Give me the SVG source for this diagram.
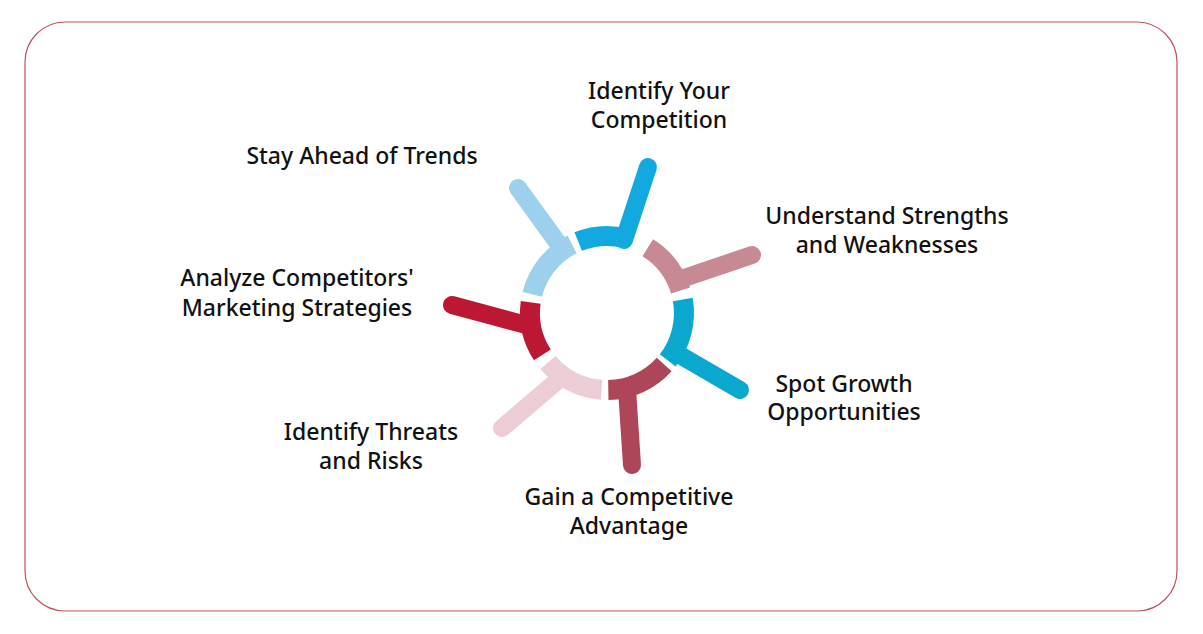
<svg xmlns="http://www.w3.org/2000/svg" width="1203" height="634" viewBox="0 0 1203 634">
<style>
.lbl{font-family:"Noto Sans","Liberation Sans",sans-serif;font-size:23px;font-weight:500;fill:#111;text-anchor:middle}
.arc{fill:none;stroke-width:20}
.arm{fill:none;stroke-width:18;stroke-linecap:round}
</style>
<rect x="0" y="0" width="1203" height="634" fill="#fff"/>
<rect x="25" y="22" width="1152" height="589" rx="40" fill="#fff" stroke="#C0505F" stroke-width="1.2"/>
<g id="connectors">
<g id="seg-competition" stroke="#12A9E0"><path class="arc" d="M578.2 241.6 A77 77 0 0 1 625.6 238.3"/><path class="arm" d="M624 240 L648 167"/></g>
<g id="seg-strengths" stroke="#C78A94"><path class="arc" d="M647.8 247.7 A77 77 0 0 1 680.6 290.5"/><path class="arm" d="M676.8 280.5 L752 255"/></g>
<g id="seg-growth" stroke="#0AA8CF"><path class="arc" d="M682.8 299.6 A77 77 0 0 1 667.7 360.4"/><path class="arm" d="M673.7 351.5 L740 390"/></g>
<g id="seg-advantage" stroke="#AE4659"><path class="arc" d="M664.2 364.5 A77 77 0 0 1 608.3 390"/><path class="arm" d="M626.9 387.4 L632 465"/></g>
<g id="seg-threats" stroke="#EDCDD5"><path class="arc" d="M601.6 389.8 A77 77 0 0 1 548 362.5"/><path class="arm" d="M562.8 376.1 L502 428"/></g>
<g id="seg-marketing" stroke="#BC1733"><path class="arc" d="M542.4 354.9 A77 77 0 0 1 530.7 302.3"/><path class="arm" d="M531.2 326.4 L452 305"/></g>
<g id="seg-trends" stroke="#9DD0EC"><path class="arc" d="M532.3 294.4 A77 77 0 0 1 572 244.4"/><path class="arm" d="M562.8 249.9 L518 188"/></g>
</g>
<g id="node-competition"><text class="lbl" x="659" y="99">Identify Your</text><text class="lbl" x="659" y="128">Competition</text></g>
<g id="node-trends"><text class="lbl" x="362" y="164">Stay Ahead of Trends</text></g>
<g id="node-strengths"><text class="lbl" x="887" y="224">Understand Strengths</text><text class="lbl" x="887" y="253">and Weaknesses</text></g>
<g id="node-marketing"><text class="lbl" x="297" y="286">Analyze Competitors'</text><text class="lbl" x="297" y="316">Marketing Strategies</text></g>
<g id="node-growth"><text class="lbl" x="844" y="392">Spot Growth</text><text class="lbl" x="844" y="420">Opportunities</text></g>
<g id="node-threats"><text class="lbl" x="371" y="440">Identify Threats</text><text class="lbl" x="371" y="469">and Risks</text></g>
<g id="node-advantage"><text class="lbl" x="629" y="505">Gain a Competitive</text><text class="lbl" x="629" y="534">Advantage</text></g>
</svg>
